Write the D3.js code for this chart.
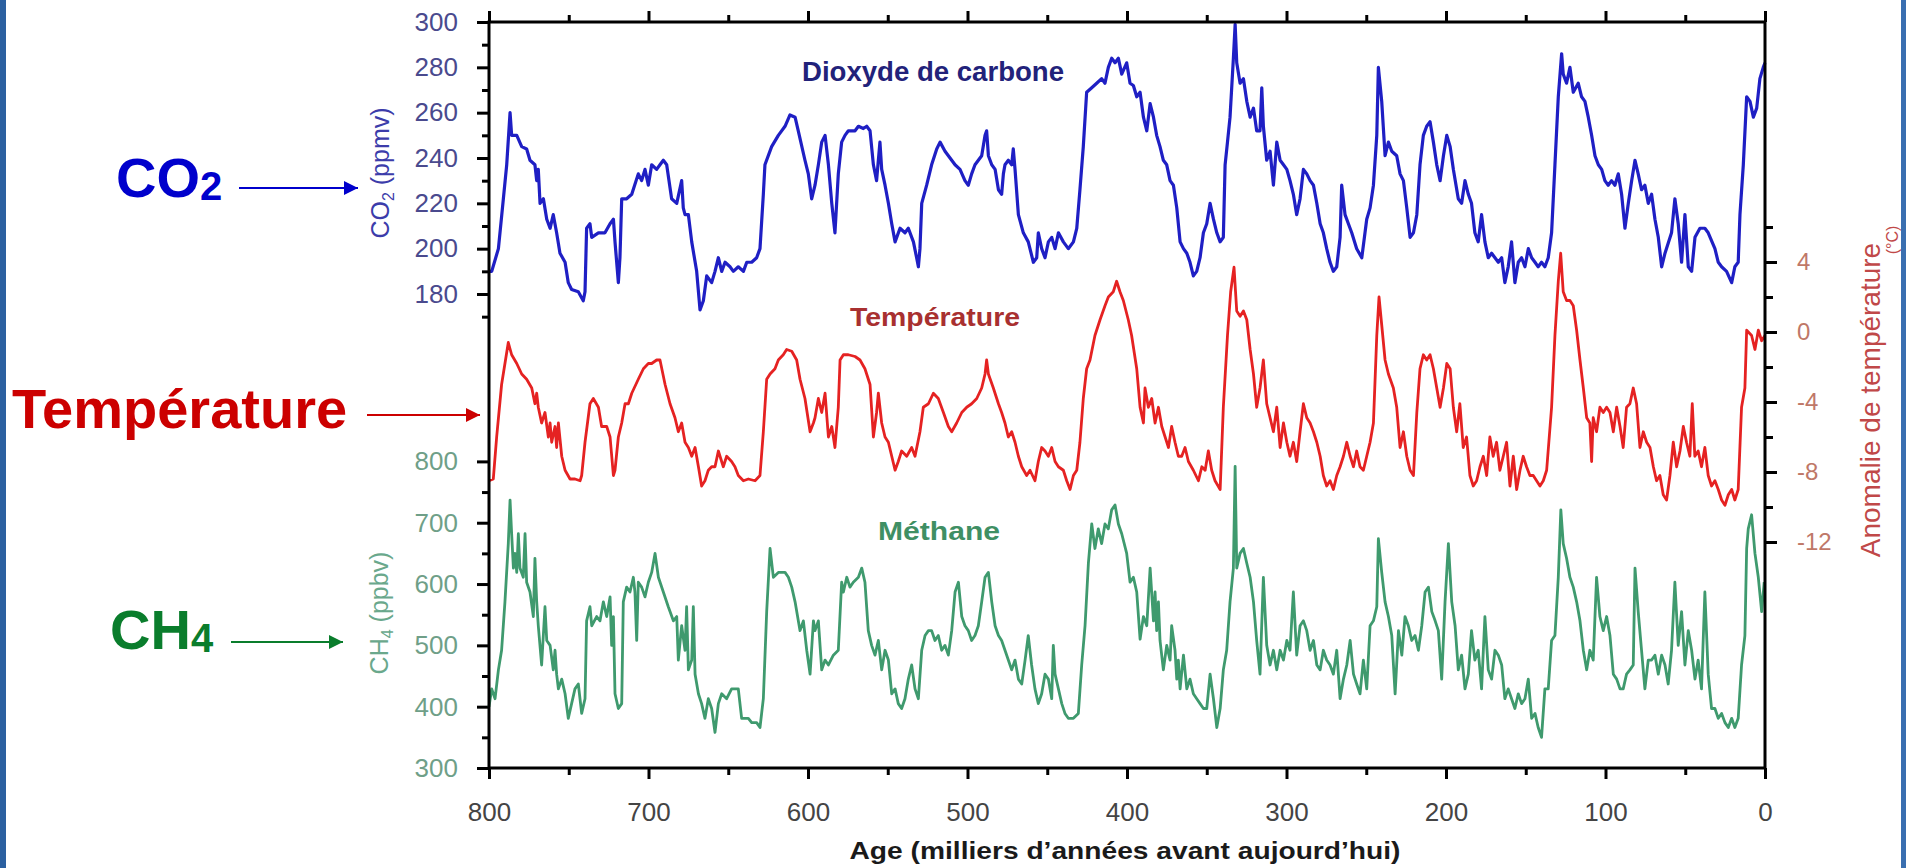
<!DOCTYPE html>
<html><head><meta charset="utf-8">
<script src="https://cdn.jsdelivr.net/npm/d3@7"></script>
<style>
html,body{margin:0;padding:0;background:#fff;}
svg{display:block;font-family:"Liberation Sans",Arial,Helvetica,sans-serif;}
</style></head>
<body><svg id="c" width="1906" height="868"></svg>
<script>
// ---- tick values ----
const xMajor = [800,700,600,500,400,300,200,100,0];
const xMinor = [750,650,550,450,350,250,150,50];
const co2Major = [180,200,220,240,260,280,300];
const co2Minor = [170,190,210,230,250,270,290];
const ch4Major = [300,400,500,600,700,800];
const ch4Minor = [350,450,550,650,750];
const tempMajor = [4,0,-4,-8,-12];
const tempMinor = [6,2,-2,-6,-10];

// ---- series: [age (ka BP), value] ----
const co2 = [[800,190],[798.3,190],[794.1,200],[791,222],[788.9,237],[786.8,260],[785.8,250],[782.6,250],[779.5,245],[776.4,244],[774.3,239],[771.2,237],[770.1,230],[769.1,235],[768,220],[765.9,222],[763.8,213],[761.7,209],[759.7,215],[757.6,207],[755.5,198],[752.3,194],[750.3,185],[748.2,182],[744,181],[740.9,177],[739.8,181],[738.8,209],[736.7,211],[735.6,205],[731.4,207],[727.3,207],[724.1,211],[722,213],[721,203],[718.9,185],[717.9,196],[716.8,222],[713.7,222],[710.5,224],[706.4,233],[704.3,230],[702.2,235],[700.1,228],[698,237],[694.9,235],[692.8,237],[690.7,239],[688.6,237],[685.5,222],[682.3,220],[679.2,230],[678.2,218],[677.1,215],[675,215],[672.9,203],[669.8,190],[667.7,173],[665.6,177],[663.5,188],[660.4,185],[658.3,190],[656.2,196],[654.1,190],[652,194],[648.9,192],[646.8,190],[643.7,192],[640.5,190],[638.4,194],[635.3,194],[632.2,196],[630.1,200],[628,224],[627,237],[622.8,245],[618.6,250],[614.4,254],[611.3,259],[608.1,258],[606.1,252],[601.9,239],[599.8,233],[597.7,222],
[595.6,228],[593.5,237],[591.4,247],[589.3,250],[587.2,237],[585.1,220],[583.1,207],[581,233],[578.9,247],[576.8,250],[574.7,252],[570.5,252],[568.4,254],[565.3,253],[563.2,254],[561.1,252],[559,237],[557,230],[554.9,247],[553.8,235],[551.7,228],[549.6,220],[547.5,211],[545.4,203],[542.3,209],[539.2,207],[537.1,209],[533.9,203],[531.9,196],[530.8,192],[529.8,200],[528.7,220],[525.6,228],[522.5,237],[519.3,244],[517.2,247],[514.1,243],[512,241],[509.9,239],[507.8,237],[504.7,235],[501.6,230],[499.5,228],[497.4,233],[495.3,237],[493.2,239],[491.1,241],[489,250],[488,252],[486.9,241],[484.8,237],[482.7,235],[480.6,226],[478.6,224],[477.5,233],[476.5,237],[474.4,239],[472.3,237],[471.3,244],[470.2,235],[468.1,215],[465,207],[461.9,203],[458.7,194],[456.6,196],[455.6,207],[453.5,200],[451.4,196],[449.3,203],[447.2,205],[445.1,200],[443,207],[439.9,203],[436.8,200],[433.6,203],[431.5,209],[429.5,226],[427.4,245],[425.3,269],[422.1,271],[419,273],[415.9,275],[413.8,273],[411.7,280],[409.6,284],[407.5,282],[405.4,284],[403.3,277],[400.2,282],[398.1,273],[396,272],[393.9,267],
[391.8,269],[389.7,258],[387.6,252],[385.5,264],[383.4,258],[381.4,250],[379.3,245],[377.2,239],[375.1,237],[373,230],[370.9,228],[368.8,218],[366.7,203],[364.6,200],[362.5,198],[360.5,194],[358.4,188],[356.3,190],[354.2,196],[352.1,207],[350,211],[347.9,220],[345.8,213],[343.7,207],[341.6,203],[339.6,205],[338.5,237],[337,247],[335.4,258],[333.3,284],[332.2,299],[331.2,282],[329.1,273],[327,275],[324.9,265],[322.8,258],[320.7,262],[318.7,252],[316.6,252],[315.5,271],[314.5,254],[312.4,239],[310.3,243],[308.2,228],[306.1,247],[304,239],[301.9,237],[299.8,235],[297.8,230],[295.7,224],[293.6,215],[291.5,222],[289.4,235],[287.3,233],[285.2,230],[283.1,228],[281,220],[278.9,211],[276.9,207],[274.8,200],[272.7,194],[270.6,190],[268.5,192],[266.4,205],[265.4,228],[263.3,215],[261.2,211],[259.1,207],[256,200],[252.8,196],[249.7,213],[247.6,218],[245.5,228],[243.4,250],[242.4,280],[240.3,265],[238.2,241],[236.1,247],[234,243],[230.9,241],[228.8,233],[226.7,230],[224.6,218],[222.5,205],[220.4,207],[218.3,215],[216.3,237],[214.2,250],[212.1,254],[210,256],[207.9,247],[205.8,237],[203.7,230],[201.6,241],[199.5,250],[197.4,245],[195.4,235],
[192.3,222],[190.2,220],[188.1,230],[186,224],[184,220],[181.9,207],[179.8,203],[177.7,215],[175.6,203],[173.5,196],[171.4,198],[169.3,196],[167.2,194],[165.1,196],[163.1,185],[161,192],[158.9,203],[156.8,185],[154.7,194],[152.6,196],[150.5,192],[148.4,200],[146.3,196],[144.2,194],[142.2,192],[140.1,194],[138,192],[135.9,196],[133.8,207],[131.7,237],[129.6,267],[127.5,286],[126.5,277],[124.4,273],[122.3,280],[120.2,269],[117.1,273],[115,267],[112.9,265],[110.8,258],[108.7,250],[106.6,241],[104.5,237],[102.4,235],[100.4,230],[98.3,228],[96.2,230],[94.1,228],[92,233],[89.9,224],[87.8,209],[85.7,220],[83.6,230],[81.5,239],[79.5,233],[77.4,226],[75.3,228],[73.2,220],[71.1,224],[69,213],[66.9,205],[64.8,192],[62.7,198],[58.6,207],[56.5,222],[54.4,211],[52.3,194],[50.2,215],[48.1,192],[46,190],[43.9,205],[40.8,209],[37.7,209],[35.6,207],[31.4,200],[29.3,194],[27.2,192],[24.1,190],[20.9,185],[18.9,192],[16.8,194],[15.7,215],[13.6,237],[11.5,267],[9.4,265],[7.3,258],[5.2,262],[3.2,275],[1.1,280],[0,282]];

const temperature = [[800,-8.5],[797.3,-8.4],[795.2,-6.0],[792.1,-3.0],[787.9,-0.6],[785.8,-1.3],[782.6,-1.8],[779.5,-2.4],[776.4,-2.7],[773.2,-3.2],[771.2,-4.1],[770.1,-3.5],[769.1,-4.3],[767,-5.2],[764.9,-4.6],[762.8,-6.0],[761.7,-5.2],[760.7,-6.3],[758.6,-5.4],[757.6,-6.6],[756.5,-5.2],[754.4,-7.1],[752.3,-7.9],[749.2,-8.4],[746.1,-8.4],[742.9,-8.5],[741.9,-8.2],[739.8,-6.3],[736.7,-4.1],[734.6,-3.8],[731.4,-4.3],[729.4,-5.4],[726.2,-5.4],[724.1,-6.0],[722,-8.2],[721,-7.9],[718.9,-6.0],[716.8,-5.2],[714.7,-4.1],[712.6,-4.1],[710.5,-3.5],[706.4,-2.7],[703.2,-2.1],[700.1,-1.8],[698,-1.8],[694.9,-1.6],[692.8,-1.6],[689.6,-3.0],[686.5,-4.1],[683.4,-4.9],[681.3,-5.7],[679.2,-5.2],[677.1,-6.3],[675,-6.6],[672.9,-7.1],[670.8,-6.6],[668.7,-7.7],[666.7,-8.8],[664.6,-8.5],[662.5,-7.9],[660.4,-7.7],[658.3,-7.7],[656.2,-6.8],[653.1,-7.7],[651,-7.1],[647.9,-7.4],[645.8,-7.7],[643.7,-8.2],[640.5,-8.5],[637.4,-8.4],[633.2,-8.5],[630.1,-8.2],[628,-5.7],[625.9,-2.7],[623.8,-2.4],[620.7,-2.1],[618.6,-1.6],[615.5,-1.3],[613.4,-1.0],[610.2,-1.1],[607.1,-1.6],[605,-2.7],[601.9,-3.8],[598.7,-5.7],[596.6,-5.2],
[595.6,-4.9],[593.5,-3.8],[591.4,-4.6],[589.3,-3.5],[587.2,-6.0],[585.1,-5.4],[583.1,-6.6],[581,-4.3],[579.9,-1.6],[577.8,-1.3],[574.7,-1.3],[570.5,-1.4],[567.4,-1.6],[564.3,-2.1],[561.1,-3.0],[559,-6.0],[557,-4.6],[555.9,-3.5],[553.8,-5.2],[551.7,-6.0],[549.6,-6.3],[547.5,-7.1],[545.4,-7.9],[543.4,-7.4],[541.3,-6.8],[538.1,-7.1],[535,-6.6],[532.9,-7.1],[529.8,-5.7],[527.7,-4.3],[524.5,-4.1],[521.4,-3.5],[518.3,-3.8],[515.1,-4.6],[512,-5.4],[509.9,-5.7],[506.8,-5.2],[503.6,-4.6],[500.5,-4.3],[497.4,-4.1],[494.2,-3.8],[491.1,-3.2],[489,-2.4],[488,-1.6],[486.9,-2.4],[483.8,-3.2],[480.6,-4.1],[478.6,-4.6],[476.5,-5.2],[474.4,-6.0],[472.3,-5.7],[470.2,-6.3],[468.1,-7.1],[466,-7.7],[462.9,-8.2],[460.8,-7.9],[457.7,-8.5],[455.6,-7.4],[453.5,-6.6],[451.4,-6.8],[449.3,-7.1],[447.2,-6.6],[445.1,-7.4],[443,-7.7],[439.9,-7.9],[437.8,-8.5],[435.7,-9.0],[433.6,-8.2],[431.5,-7.9],[429.5,-6.3],[427.4,-3.8],[425.3,-2.1],[423.2,-1.6],[420.1,-0.2],[416.9,0.7],[413.8,1.5],[411.7,2.0],[408.6,2.3],[406.5,2.9],[404.4,2.3],[402.3,1.8],[399.2,0.7],[397.1,-0.2],[393.9,-2.1],
[391.8,-4.3],[389.7,-5.2],[388.7,-3.2],[386.6,-4.3],[384.5,-3.8],[382.4,-5.2],[380.3,-4.3],[378.2,-5.4],[376.1,-6.0],[374,-6.6],[372,-5.4],[369.9,-6.3],[367.8,-7.1],[365.7,-7.1],[363.6,-6.6],[361.5,-7.4],[358.4,-7.9],[355.2,-8.5],[353.1,-7.7],[351,-7.9],[349,-6.8],[346.9,-7.9],[344.8,-8.5],[341.6,-9.0],[339.6,-4.3],[337,-0.2],[335,2.3],[332.9,3.7],[331.2,1.2],[329.1,0.9],[327,1.2],[324.9,0.7],[322.8,-1.0],[320.7,-2.4],[318.7,-4.3],[316.6,-3.2],[314.5,-1.6],[312.4,-4.1],[310.3,-4.9],[308.2,-5.7],[306.1,-4.3],[304,-6.6],[301.9,-5.2],[299.8,-6.3],[297.8,-7.1],[295.7,-6.3],[293.6,-7.4],[291.5,-5.7],[289.4,-4.1],[287.3,-4.9],[285.2,-5.2],[283.1,-5.7],[281,-6.3],[278.9,-7.1],[276.9,-8.2],[274.8,-8.8],[272.7,-8.5],[270.6,-9.0],[268.5,-8.2],[266.4,-7.7],[264.3,-7.1],[262.2,-6.3],[260.1,-7.1],[258,-7.7],[256,-6.8],[253.9,-7.7],[251.8,-7.9],[249.7,-7.1],[247.6,-6.3],[245.5,-5.2],[243.4,-0.2],[242,2.0],[240.3,0.4],[238.2,-1.6],[236.1,-2.4],[233,-3.2],[230.9,-4.3],[228.8,-6.6],[226.7,-5.7],[224.6,-7.1],[222.5,-7.9],[220.4,-8.2],[218.3,-4.6],[216.3,-2.1],[214.2,-1.3],[212.1,-1.6],[210,-1.3],[207.9,-2.1],[205.8,-3.2],[203.7,-4.3],[201.6,-3.2],[199.5,-1.8],[197.4,-2.1],[195.4,-4.3],
[193.3,-5.7],[191.3,-4.1],[189.2,-6.6],[187.1,-6.0],[185,-8.2],[182.9,-8.8],[180.8,-8.5],[178.7,-7.7],[176.6,-7.1],[174.5,-8.2],[172.5,-6.0],[170.4,-7.1],[168.3,-6.3],[166.2,-7.9],[164.1,-7.1],[162,-6.3],[159.9,-8.8],[157.8,-7.1],[155.7,-9.0],[153.6,-7.9],[151.6,-7.1],[149.5,-7.7],[147.4,-8.2],[145.3,-8.2],[143.2,-8.5],[141.1,-8.8],[139,-8.5],[136.9,-7.9],[133.8,-4.3],[131.7,-0.2],[129.6,2.9],[128.1,4.5],[126.5,2.3],[124.4,1.8],[122.3,1.8],[120.2,1.5],[118.1,0.1],[116,-1.6],[113.9,-3.2],[111.8,-4.9],[109.8,-5.2],[108.7,-7.4],[107.7,-4.9],[105.6,-5.7],[103.5,-4.3],[101.4,-4.6],[99.3,-4.3],[97.2,-4.6],[95.1,-5.7],[93,-4.3],[90.9,-5.4],[88.9,-6.6],[86.8,-4.3],[84.7,-4.1],[82.6,-3.2],[80.5,-4.1],[78.4,-6.6],[76.3,-5.7],[74.2,-6.3],[72.1,-6.6],[70,-7.7],[68,-8.5],[65.9,-8.2],[63.8,-9.3],[61.7,-9.6],[59.6,-8.2],[57.5,-6.3],[55.4,-7.7],[53.3,-6.8],[51.2,-5.4],[49.2,-6.3],[47.1,-7.1],[45.6,-4.1],[44,-7.1],[41.9,-6.8],[39.8,-7.7],[37.7,-6.6],[35.6,-8.2],[33.5,-8.8],[31.4,-8.5],[29.3,-9.0],[27.2,-9.6],[25.1,-9.9],[23,-9.3],[20.9,-9.0],[18.9,-9.6],[16.8,-9.0],[14.7,-4.3],[12.6,-3.2],[11.5,0.1],[8.4,-0.2],[6.3,-1.0],[4.2,0.1],[2.1,-0.5],[0,-0.2]];

const methane = [[800,400],[798.3,429],[796.2,413],[794.1,460],[792.1,492],[790,571],[787.9,666],[786.8,737],[785.8,682],[784.7,626],[783.7,650],[782.6,619],[781.6,682],[780.6,626],[778.5,611],[777.4,682],[776.4,603],[774.3,587],[772.2,547],[771.2,642],[770.1,571],[769.1,532],[767,468],[764.9,563],[763.8,508],[761.7,500],[759.7,460],[758.6,492],[757.6,453],[756.5,429],[754.4,445],[752.3,421],[750.3,381],[748.2,405],[746.1,429],[744,437],[741.9,389],[739.8,413],[738.8,540],[736.7,563],[735.6,532],[732.5,547],[730.4,540],[728.3,571],[726.2,547],[724.1,579],[723.1,500],[722,547],[721,421],[718.9,397],[716.8,405],[715.8,571],[713.7,595],[711.6,587],[709.5,611],[708.5,587],[707.4,508],[706.4,603],[704.3,595],[702.2,579],[700.1,603],[698,619],[695.9,650],[693.8,611],[690.7,587],[687.6,563],[684.4,540],[682.3,547],[681.3,476],[679.2,532],[677.1,492],[676.1,563],[675,460],[672.9,476],[671.9,563],[670.8,453],[668.7,421],[666.7,405],[664.6,381],[662.5,413],[660.4,397],[658.3,358],[656.2,405],[654.1,421],[651,413],[647.9,429],[643.7,429],[641.6,381],[637.4,381],[635.3,374],[632.2,374],[630.1,366],[628,413],[625.9,555],[623.8,658],[621.7,611],[618.6,619],[614.4,619],[612.3,611],[610.2,595],[608.1,571],[605,524],[602.9,540],[600.8,492],[598.7,453],[596.6,540],
[595.6,524],[593.5,540],[591.4,460],[589.3,476],[587.2,468],[584.1,484],[581,492],[578.9,603],[577.8,587],[575.7,611],[573.7,595],[571.6,603],[568.4,611],[566.3,626],[564.3,603],[562.2,524],[560.1,500],[558,484],[555.9,508],[553.8,460],[551.7,492],[549.6,476],[547.5,421],[545.4,429],[543.4,405],[541.3,397],[539.2,413],[537.1,445],[535,468],[532.9,429],[530.8,413],[528.7,492],[526.6,516],[524.5,524],[522.5,524],[520.4,508],[518.3,516],[516.2,492],[514.1,500],[512,484],[509.9,524],[507.8,587],[505.7,603],[503.6,547],[501.6,532],[499.5,524],[497.4,508],[495.3,516],[493.2,532],[491.1,571],[489,611],[486.9,619],[484.8,571],[482.7,532],[480.6,516],[478.6,508],[476.5,492],[474.4,476],[472.3,460],[470.2,476],[468.1,445],[466,437],[463.9,476],[461.9,516],[459.8,468],[457.7,429],[455.6,405],[453.5,421],[451.4,453],[449.3,445],[447.2,413],[446.2,500],[445.1,453],[443,429],[440.9,405],[438.9,389],[436.8,381],[433.6,381],[430.5,389],[428.4,468],[426.3,532],[424.2,634],[422.1,698],[420.1,658],[418,690],[415.9,666],[413.8,698],[411.7,690],[409.6,721],[407.5,729],[405.4,698],[403.3,682],[400.2,650],[398.1,603],[396,611],[393.9,587],
[391.8,510],[389.7,547],[387.6,532],[385.5,626],[383.4,540],[382.4,587],[381.4,524],[380.3,571],[379.3,508],[377.2,460],[375.1,500],[373,476],[372,532],[369.9,492],[368.8,445],[367.8,476],[366.7,429],[364.6,484],[362.5,429],[360.5,445],[358.4,421],[356.3,413],[354.2,405],[352.1,397],[350,397],[347.9,453],[345.8,413],[343.7,366],[341.6,397],[339.6,460],[337.5,492],[335.4,571],[333.3,626],[332.2,792],[331.2,626],[329.1,650],[327,658],[324.9,634],[322.8,611],[320.7,571],[318.7,508],[316.6,453],[314.5,611],[312.4,500],[310.3,468],[308.2,492],[306.1,460],[304,492],[301.9,476],[299.8,508],[297.8,492],[295.7,587],[293.6,484],[291.5,532],[289.4,540],[287.3,524],[285.2,492],[283.1,508],[281,468],[278.9,460],[276.9,492],[274.8,476],[272.7,468],[270.6,453],[268.5,492],[266.4,413],[264.3,445],[262.2,468],[260.1,508],[258,453],[256,437],[253.9,421],[251.8,476],[249.7,429],[247.6,532],[245.5,540],[243.4,563],[242.4,674],[240.3,619],[238.2,571],[236.1,547],[234,516],[231.9,421],[229.8,524],[227.7,484],[225.7,547],[223.6,532],[221.5,508],[219.4,516],[217.3,492],[215.2,532],[213.1,587],[211,595],[208.9,555],[206.8,540],[204.8,524],[202.7,445],[200.6,571],[198.5,666],[196.4,571],[194.3,532],
[192.3,460],[190.2,484],[188.1,429],[186,453],[184,524],[181.9,476],[179.8,492],[177.7,429],[175.6,547],[173.5,460],[171.4,445],[169.3,492],[167.2,484],[165.1,468],[163.1,413],[161,429],[158.9,413],[156.8,397],[154.7,421],[152.6,405],[150.5,413],[148.4,445],[146.3,381],[144.2,389],[142.2,366],[140.1,350],[138,429],[135.9,429],[133.8,508],[131.7,516],[129.6,611],[128,721],[126.5,666],[124.4,642],[122.3,611],[120.2,595],[118.1,571],[116,540],[113.9,492],[111.8,460],[109.8,492],[107.7,476],[105.6,611],[103.5,547],[101.4,524],[99.3,547],[97.2,516],[95.1,453],[93,445],[90.9,429],[88.9,429],[86.8,453],[84.7,460],[82.6,468],[81.5,626],[79.5,555],[77.4,492],[75.3,429],[73.2,476],[71.1,476],[69,484],[66.9,453],[64.8,484],[62.7,468],[60.7,437],[58.6,492],[56.5,603],[54.4,500],[52.3,555],[50.2,468],[48.1,524],[46,492],[43.9,445],[41.9,476],[39.8,429],[37.7,587],[35.6,453],[33.5,397],[31.4,397],[29.3,381],[27.2,389],[25.1,374],[23,366],[20.9,381],[18.9,366],[16.8,381],[14.7,468],[12.6,516],[11.5,658],[10.5,690],[8.4,713],[6.3,650],[4.2,611],[2.1,555],[0.5,603]];

// ---- layout ----
const svg = d3.select("#c");
const L = 489, R = 1765, T = 22, B = 768;

const x = d3.scaleLinear().domain([800, 0]).range([L, R]);
const yCO2 = d3.scaleLinear().domain([180, 300]).range([294, T]);
const yCH4 = d3.scaleLinear().domain([300, 800]).range([B, 461.4]);
const yT = d3.scaleLinear().domain([0, 4]).range([332, 262]);
const plain = d => String(d);

// side borders
svg.append("rect").attr("x",0).attr("y",0).attr("width",6).attr("height",868).attr("fill","#2b60a0");

const tickStyle = g => {
  g.select(".domain").remove();
  g.selectAll(".tick line").attr("stroke","#000").attr("stroke-width",3);
  g.selectAll(".tick text").attr("font-family","'Liberation Sans',Arial,sans-serif").attr("font-size",26);
};

// bottom
svg.append("g").attr("transform",`translate(0,${B})`)
  .call(d3.axisBottom(x).tickValues(xMajor).tickSize(11).tickPadding(24).tickFormat(plain))
  .call(tickStyle).selectAll(".tick text").attr("fill","#444");
svg.append("g").attr("transform",`translate(0,${B})`)
  .call(d3.axisBottom(x).tickValues(xMinor).tickSize(7).tickFormat(""))
  .call(tickStyle);
// top
svg.append("g").attr("transform",`translate(0,${T})`)
  .call(d3.axisTop(x).tickValues(xMajor).tickSize(11).tickFormat(""))
  .call(tickStyle);
svg.append("g").attr("transform",`translate(0,${T})`)
  .call(d3.axisTop(x).tickValues(xMinor).tickSize(7).tickFormat(""))
  .call(tickStyle);
// left CO2
svg.append("g").attr("transform",`translate(${L},0)`)
  .call(d3.axisLeft(yCO2).tickValues(co2Major).tickSize(12).tickPadding(19).tickFormat(plain))
  .call(tickStyle).selectAll(".tick text").attr("fill","#4a4a8e");
svg.append("g").attr("transform",`translate(${L},0)`)
  .call(d3.axisLeft(yCO2).tickValues(co2Minor).tickSize(7).tickFormat(""))
  .call(tickStyle);
// left CH4
svg.append("g").attr("transform",`translate(${L},0)`)
  .call(d3.axisLeft(yCH4).tickValues(ch4Major).tickSize(12).tickPadding(19).tickFormat(plain))
  .call(tickStyle).selectAll(".tick text").attr("fill","#6f9f88");
svg.append("g").attr("transform",`translate(${L},0)`)
  .call(d3.axisLeft(yCH4).tickValues(ch4Minor).tickSize(7).tickFormat(""))
  .call(tickStyle);
// right temperature
svg.append("g").attr("transform",`translate(${R},0)`)
  .call(d3.axisRight(yT).tickValues(tempMajor).tickSize(12).tickPadding(20).tickFormat(plain))
  .call(tickStyle).selectAll(".tick text").attr("fill","#bf7868").attr("font-size",24);
svg.append("g").attr("transform",`translate(${R},0)`)
  .call(d3.axisRight(yT).tickValues(tempMinor).tickSize(8).tickFormat(""))
  .call(tickStyle);

// series
const line = (yScale) => d3.line().x(d => x(d[0])).y(d => yScale(d[1]));
svg.append("path").datum(methane).attr("d", line(yCH4))
  .attr("fill","none").attr("stroke","#3f9a6e").attr("stroke-width",2.8).attr("stroke-linejoin","round");
svg.append("path").datum(temperature).attr("d", line(yT))
  .attr("fill","none").attr("stroke","#e52222").attr("stroke-width",2.8).attr("stroke-linejoin","round");
svg.append("path").datum(co2).attr("d", line(yCO2))
  .attr("fill","none").attr("stroke","#1f1fc4").attr("stroke-width",3.2).attr("stroke-linejoin","round");

// frame
svg.append("rect").attr("x",L).attr("y",T).attr("width",R-L).attr("height",B-T)
  .attr("fill","none").attr("stroke","#000").attr("stroke-width",3);

// inner labels
svg.append("text").attr("x",802).attr("y",81).attr("font-size",27).attr("font-weight","bold")
  .attr("fill","#22227a").attr("textLength",262).attr("lengthAdjust","spacingAndGlyphs").text("Dioxyde de carbone");
svg.append("text").attr("x",850).attr("y",326).attr("font-size",26).attr("font-weight","bold")
  .attr("fill","#a83030").attr("textLength",170).attr("lengthAdjust","spacingAndGlyphs").text("Température");
svg.append("text").attr("x",878).attr("y",540).attr("font-size",26).attr("font-weight","bold")
  .attr("fill","#3f8f64").attr("textLength",122).attr("lengthAdjust","spacingAndGlyphs").text("Méthane");

// axis titles
const co2t = svg.append("text").attr("transform","translate(389,173) rotate(-90)").attr("text-anchor","middle")
  .attr("font-size",25).attr("fill","#3c3caa");
co2t.append("tspan").text("CO");
co2t.append("tspan").attr("font-size",16).attr("dy",5).text("2");
co2t.append("tspan").attr("dy",-5).text(" (ppmv)");
const ch4t = svg.append("text").attr("transform","translate(388,613) rotate(-90)").attr("text-anchor","middle")
  .attr("font-size",25).attr("fill","#6aa88c");
ch4t.append("tspan").text("CH");
ch4t.append("tspan").attr("font-size",16).attr("dy",5).text("4");
ch4t.append("tspan").attr("dy",-5).text(" (ppbv)");
svg.append("text").attr("transform","translate(1880,400) rotate(-90)").attr("text-anchor","middle")
  .attr("font-size",28).attr("fill","#c04848").text("Anomalie de température");
svg.append("text").attr("transform","translate(1898,240) rotate(-90)").attr("text-anchor","middle")
  .attr("font-size",16).attr("fill","#c04848").text("(°C)");
svg.append("text").attr("x",1125).attr("y",859).attr("text-anchor","middle").attr("font-size",24)
  .attr("font-weight","bold").attr("fill","#1a1a1a").attr("textLength",551).attr("lengthAdjust","spacingAndGlyphs")
  .text("Age (milliers d’années avant aujourd’hui)");
// right border
svg.append("rect").attr("x",1901).attr("y",0).attr("width",5).attr("height",868).attr("fill","#3a6fb0");

// big annotations with arrows
const defs = svg.append("defs");
[["aB","#0000cc"],["aR","#cc0000"],["aG","#0a7d2c"]].forEach(([id,c]) => {
  defs.append("marker").attr("id",id).attr("viewBox","0 0 10 10").attr("refX",10).attr("refY",5)
    .attr("markerUnits","userSpaceOnUse").attr("markerWidth",22).attr("markerHeight",14).attr("orient","auto")
    .append("path").attr("d","M0,0 L10,5 L0,10 Z").attr("fill",c);
});
const ann = [
  {base:"CO", sub:"2", x:116, y:197, color:"#0000cc", ax1:239, ax2:358, ay:188, m:"aB"},
  {base:"Température", sub:"", x:12, y:428, color:"#cc0000", ax1:367, ax2:480, ay:415, m:"aR"},
  {base:"CH", sub:"4", x:110, y:649, color:"#0a7d2c", ax1:231, ax2:343, ay:642, m:"aG"}
];
ann.forEach(a => {
  const t = svg.append("text").attr("x",a.x).attr("y",a.y).attr("font-size",56).attr("font-weight","bold").attr("fill",a.color);
  t.append("tspan").text(a.base);
  if (a.sub) t.append("tspan").attr("font-size",40).attr("dy",3).text(a.sub);
  svg.append("line").attr("x1",a.ax1).attr("x2",a.ax2).attr("y1",a.ay).attr("y2",a.ay)
    .attr("stroke",a.color).attr("stroke-width",2).attr("marker-end",`url(#${a.m})`);
});
</script>
</body></html>
